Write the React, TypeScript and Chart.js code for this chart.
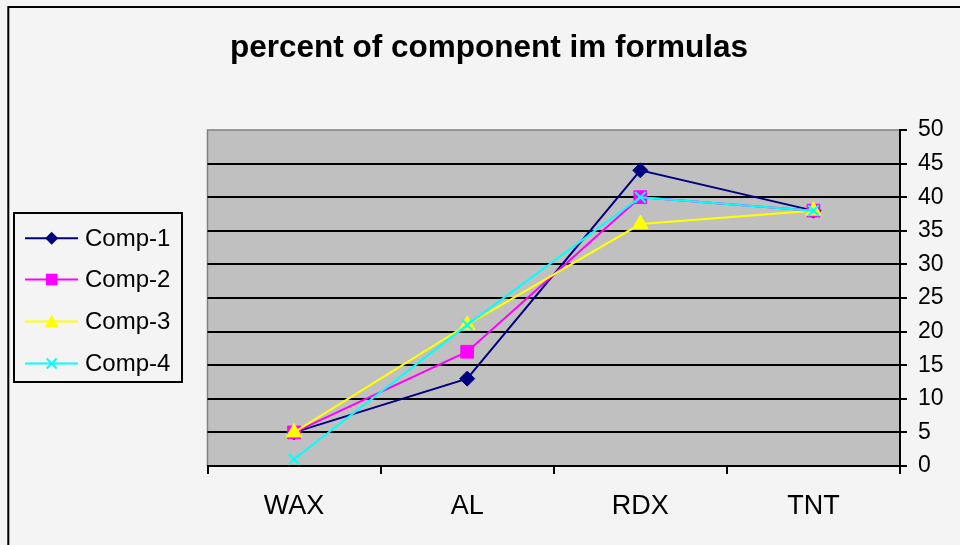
import React, { useEffect, useRef } from "react";
import { Chart, registerables } from "chart.js";

Chart.register(...registerables);

const categories = ["WAX", "AL", "RDX", "TNT"];
const comp1 = [5, 13, 44, 38];
const comp2 = [5, 17, 40, 38];
const comp3 = [5, 21, 36, 38];
const comp4 = [1, 21, 40, 38];
const seriesNames = ["Comp-1", "Comp-2", "Comp-3", "Comp-4"];
const seriesColors = ["#000080", "#FF00FF", "#FFFF00", "#00FFFF"];
const titleText = "percent of component im formulas";

const FONT = "'Liberation Sans', Arial, sans-serif";
const BG = "#F4F4F4";

function drawMarker(ctx: CanvasRenderingContext2D, kind: number, x: number, y: number, color: string) {
  ctx.save();
  ctx.fillStyle = color;
  ctx.strokeStyle = color;
  ctx.beginPath();
  if (kind === 0) {
    const r = 6.5;
    ctx.moveTo(x, y - r);
    ctx.lineTo(x + r, y);
    ctx.lineTo(x, y + r);
    ctx.lineTo(x - r, y);
    ctx.closePath();
    ctx.fill();
  } else if (kind === 1) {
    const h = 5.8;
    ctx.rect(x - h, y - h, 2 * h, 2 * h);
    ctx.fill();
  } else if (kind === 2) {
    const w = 7;
    ctx.moveTo(x, y - 7);
    ctx.lineTo(x + w, y + 6);
    ctx.lineTo(x - w, y + 6);
    ctx.closePath();
    ctx.fill();
  } else {
    const h = 5;
    ctx.lineWidth = 2;
    ctx.moveTo(x - h, y - h);
    ctx.lineTo(x + h, y + h);
    ctx.moveTo(x + h, y - h);
    ctx.lineTo(x - h, y + h);
    ctx.stroke();
  }
  ctx.restore();
}

const framePlugin = {
  id: "framePlugin",
  beforeDraw(chart: any) {
    const ctx = chart.ctx as CanvasRenderingContext2D;
    const a = chart.chartArea;
    ctx.save();
    ctx.fillStyle = BG;
    ctx.fillRect(0, 0, chart.width, chart.height);
    // outer frame
    ctx.strokeStyle = "#000";
    ctx.lineWidth = 2;
    ctx.beginPath();
    ctx.moveTo(8.3, chart.height + 5);
    ctx.lineTo(8.3, 7);
    ctx.lineTo(chart.width + 5, 7);
    ctx.stroke();
    // plot area
    ctx.fillStyle = "#C0C0C0";
    ctx.fillRect(a.left, a.top, a.right - a.left, a.bottom - a.top);
    ctx.strokeStyle = "#808080";
    ctx.lineWidth = 1.5;
    ctx.beginPath();
    ctx.moveTo(a.left, a.bottom);
    ctx.lineTo(a.left, a.top);
    ctx.lineTo(a.right, a.top);
    ctx.stroke();
    ctx.restore();
  },
  afterDraw(chart: any) {
    const ctx = chart.ctx as CanvasRenderingContext2D;
    ctx.save();
    // title
    ctx.fillStyle = "#000";
    ctx.font = `bold 31.5px ${FONT}`;
    ctx.textAlign = "center";
    ctx.textBaseline = "alphabetic";
    ctx.fillText(titleText, 489, 57);
    // legend
    ctx.fillStyle = BG;
    ctx.fillRect(14, 213, 168, 169);
    ctx.strokeStyle = "#000";
    ctx.lineWidth = 2;
    ctx.strokeRect(14, 213, 168, 169);
    const ys = [238.3, 279.5, 321.5, 363.5];
    ctx.font = `24px ${FONT}`;
    ctx.textAlign = "left";
    ctx.textBaseline = "middle";
    seriesNames.forEach((name, i) => {
      const y = ys[i];
      ctx.strokeStyle = seriesColors[i];
      ctx.lineWidth = 2;
      ctx.beginPath();
      ctx.moveTo(25, y);
      ctx.lineTo(78, y);
      ctx.stroke();
      drawMarker(ctx, i, 51.7, y, seriesColors[i]);
      ctx.fillStyle = "#000";
      ctx.fillText(name, 85, y + 1);
    });
    ctx.restore();
  },
};

export default function App() {
  const ref = useRef<HTMLCanvasElement | null>(null);
  useEffect(() => {
    document.body.style.margin = "0";
    document.body.style.background = BG;
    const canvas = ref.current;
    if (!canvas) return;
    const values = [comp1, comp2, comp3, comp4];
    const styles: any[] = ["rectRot", "rect", "triangle", "crossRot"];
    const radii = [7.5, 9, 9, 7.5];
    const chart = new Chart(canvas, {
      type: "line",
      data: {
        labels: categories,
        datasets: values.map((v, i) => ({
          label: seriesNames[i],
          data: v,
          borderColor: seriesColors[i],
          backgroundColor: seriesColors[i],
          borderWidth: 2,
          pointStyle: styles[i],
          pointRadius: radii[i],
          pointHoverRadius: radii[i],
          pointBorderWidth: i === 3 ? 2 : 1,
          pointBorderColor: seriesColors[i],
          pointBackgroundColor: seriesColors[i],
          tension: 0,
          fill: false,
          order: 3 - i,
          clip: 10,
        })),
      },
      options: {
        animation: false,
        responsive: false,
        maintainAspectRatio: false,
        devicePixelRatio: 1,
        layout: { padding: { left: 207.5, top: 130, right: 8, bottom: 0 } },
        plugins: {
          legend: { display: false },
          title: { display: false },
          tooltip: { enabled: false },
        },
        scales: {
          x: {
            type: "category",
            offset: true,
            grid: {
              offset: true,
              drawOnChartArea: false,
              drawTicks: true,
              tickLength: 8,
              color: "#000",
              lineWidth: 2,
            },
            border: { display: true, color: "#000", width: 2 },
            ticks: {
              color: "#000",
              font: { family: FONT, size: 27 },
              padding: 16,
              maxRotation: 0,
            },
            afterFit: (s: any) => {
              s.height = 545 - 466;
            },
          },
          y: {
            position: "right",
            min: 0,
            max: 50,
            ticks: {
              stepSize: 5,
              color: "#000",
              font: { family: FONT, size: 23 },
              padding: 11,
            },
            grid: {
              color: (c: any) => (c.tick && c.tick.value === 50 ? "rgba(0,0,0,0)" : "#000"),
              tickColor: "#000",
              lineWidth: 2,
              tickLength: 7,
              drawTicks: true,
            },
            border: { display: true, color: "#000", width: 2 },
            afterFit: (s: any) => {
              s.width = 952 - 900;
            },
          },
        },
      },
      plugins: [framePlugin],
    });
    return () => chart.destroy();
  }, []);
  return (
    <div style={{ position: "absolute", left: 0, top: 0, width: 960, height: 545 }}>
      <canvas ref={ref} width={960} height={545} style={{ width: 960, height: 545, display: "block" }} />
    </div>
  );
}
